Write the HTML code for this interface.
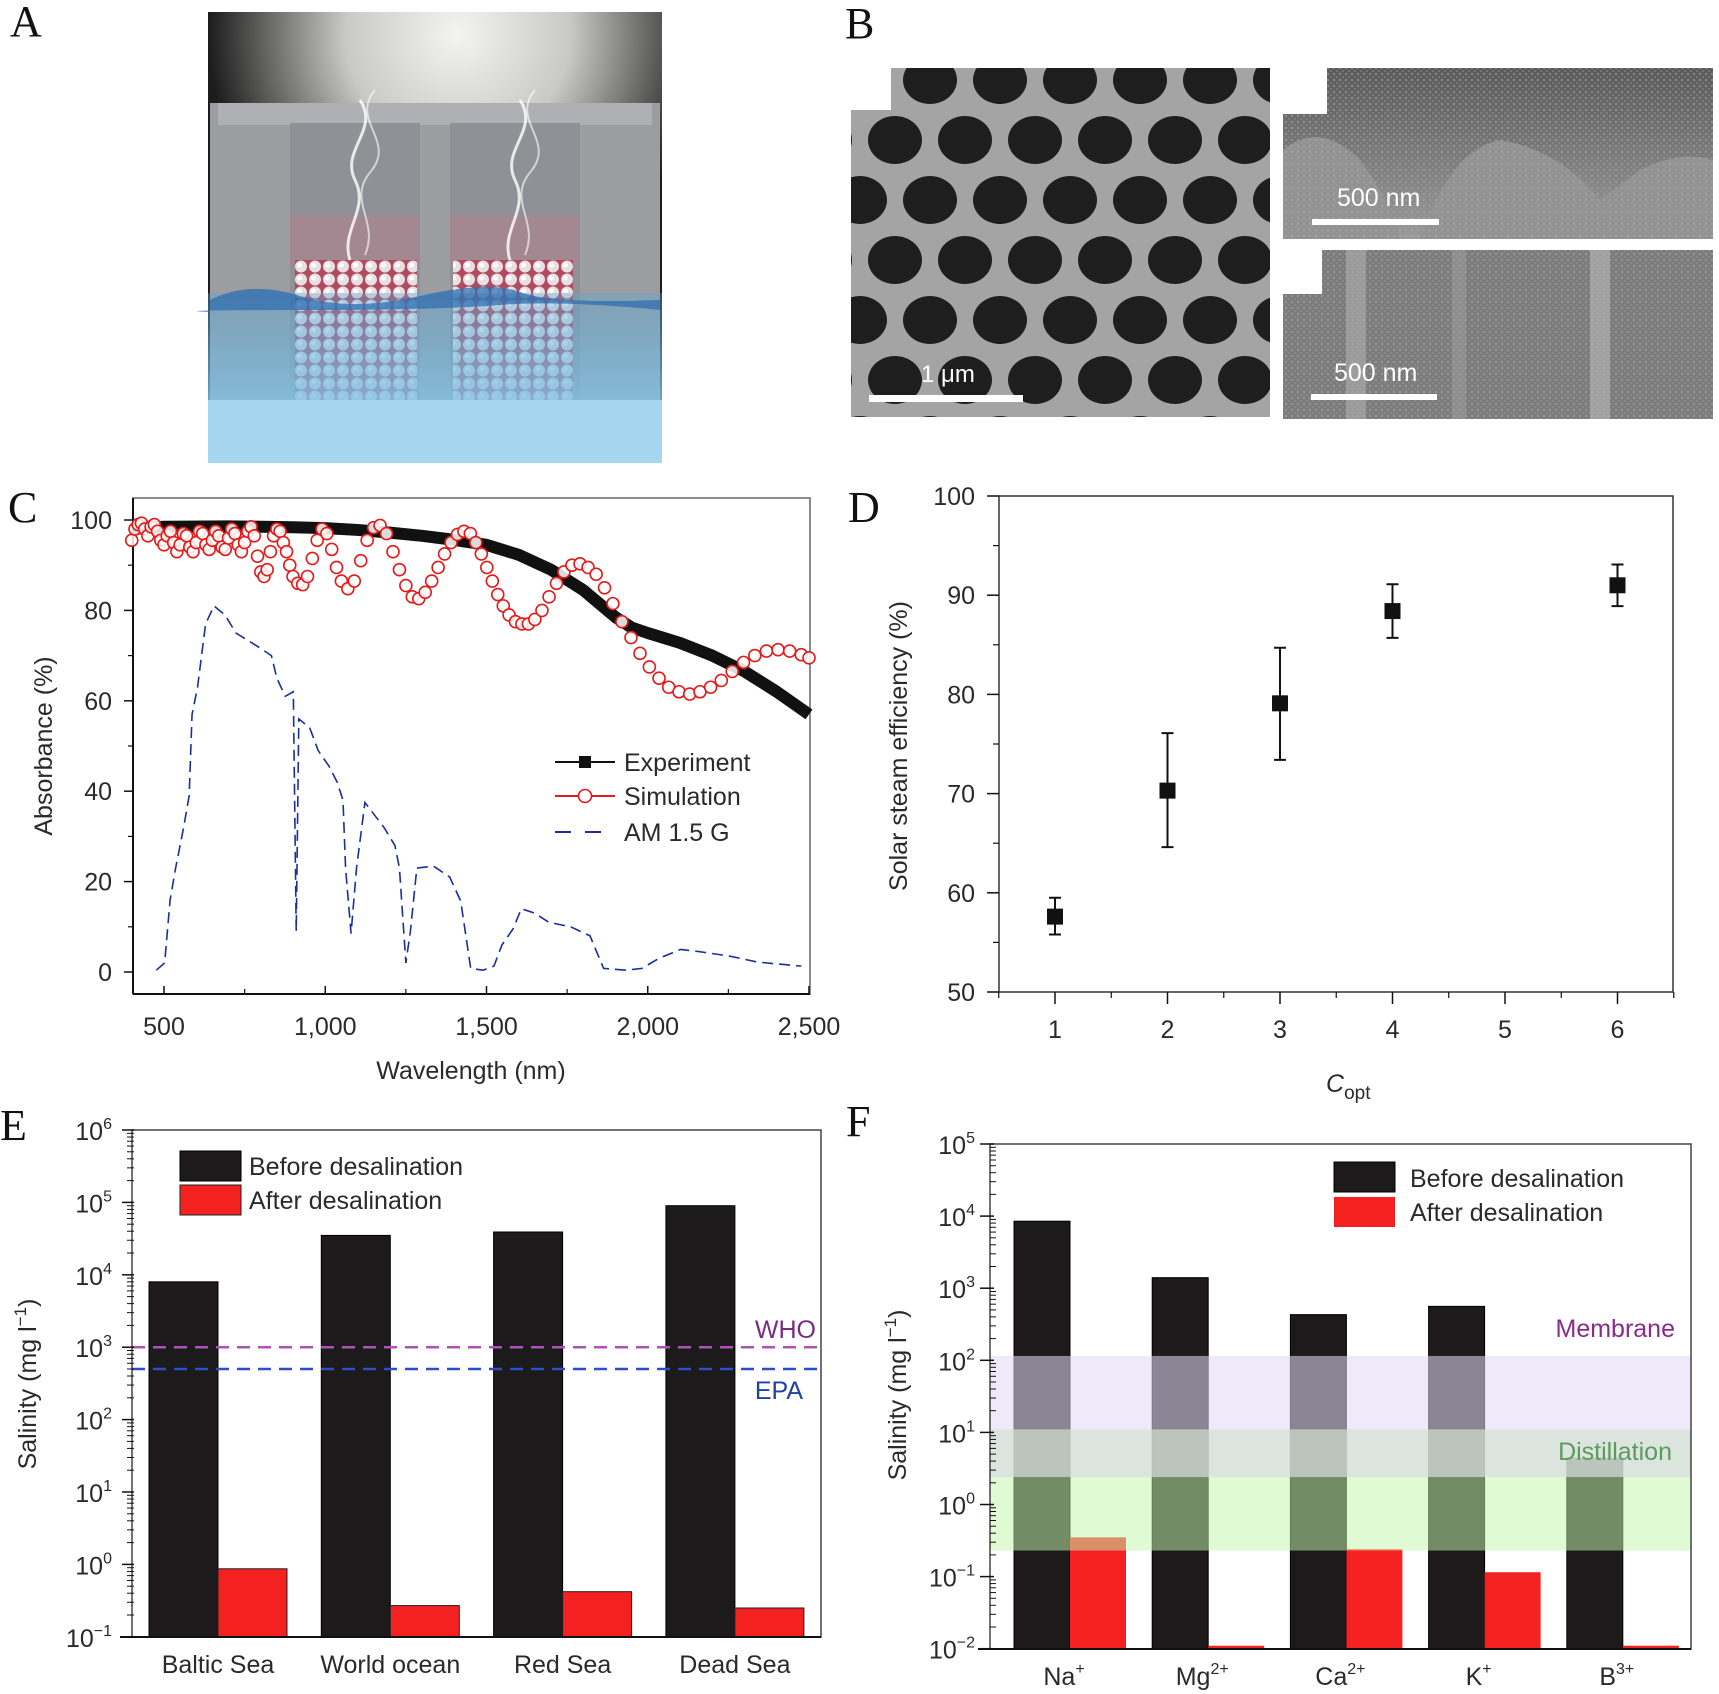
<!DOCTYPE html>
<html><head><meta charset="utf-8">
<style>
html,body{margin:0;padding:0;background:#fff;}
svg{display:block;}
text{font-family:"Liberation Sans",sans-serif;fill:#2a2a2a;}
.lbl{font-family:"Liberation Serif",serif;font-size:44px;fill:#111;}
.tk{font-size:25px;}
.ax{font-size:25px;}
</style></head>
<body>
<svg id="fig" xmlns="http://www.w3.org/2000/svg" width="1719" height="1694" viewBox="0 0 1719 1694">
<defs>
  <radialGradient id="glow" cx="0.55" cy="0.05" r="0.55">
    <stop offset="0" stop-color="#f4f4f2"/><stop offset="0.45" stop-color="#c9c9c7"/><stop offset="1" stop-color="#1c1c1c"/>
  </radialGradient>
  <linearGradient id="water" x1="0" y1="0" x2="0" y2="1">
    <stop offset="0" stop-color="#5aa8d6" stop-opacity="0.35"/><stop offset="0.6" stop-color="#7fc0e4" stop-opacity="0.8"/><stop offset="1" stop-color="#a9d8f0"/>
  </linearGradient>
  <linearGradient id="semtop" x1="0" y1="0" x2="0" y2="1">
    <stop offset="0" stop-color="#5a5a5a"/><stop offset="0.5" stop-color="#7a7a7a"/><stop offset="1" stop-color="#9a9a9a"/>
  </linearGradient>
  <pattern id="beads" width="14" height="13" patternUnits="userSpaceOnUse">
    <rect width="14" height="13" fill="#b04a5e"/>
    <circle cx="7" cy="6.5" r="6" fill="#e8dfe2"/>
    <circle cx="5.5" cy="5" r="2.5" fill="#ffffff"/>
  </pattern>
  <pattern id="grain" width="6" height="6" patternUnits="userSpaceOnUse">
    <circle cx="2" cy="2" r="1.2" fill="#b0b0b0" opacity="0.5"/>
    <circle cx="5" cy="5" r="1" fill="#9c9c9c" opacity="0.5"/>
  </pattern>
</defs>

<!-- Panel A -->
<g>
  <text class="lbl" x="10" y="36">A</text>
  <g>
    <rect x="208" y="12" width="454" height="451" fill="url(#glow)"/>
    <rect x="210" y="103" width="450" height="330" fill="#9b9da1"/>
    <rect x="218" y="103" width="434" height="22" fill="#aeb0b3"/>
    <rect x="290" y="123" width="130" height="310" fill="#8f9196"/>
    <rect x="450" y="123" width="130" height="310" fill="#8f9196"/>
    <rect x="290" y="215" width="130" height="50" fill="#e06a82" opacity="0.25"/>
    <rect x="450" y="215" width="130" height="50" fill="#e06a82" opacity="0.25"/>
    <rect x="295" y="260" width="122" height="150" fill="url(#beads)"/>
    <rect x="453" y="260" width="120" height="150" fill="url(#beads)"/>
    <rect x="208" y="293" width="454" height="170" fill="url(#water)"/>
    <path d="M210 300 Q250 280 300 296 T420 296 T520 292 T660 300 L660 310 Q560 300 500 305 T300 310 T210 312 Z" fill="#2f6db0" opacity="0.75"/>
    <rect x="208" y="400" width="454" height="63" fill="#a6d6ef"/>
    <path d="M350 260 C340 230 370 210 355 180 C340 150 380 130 360 100" stroke="#fff" stroke-width="3" fill="none" opacity="0.8"/>
    <path d="M365 255 C380 220 345 200 372 170 C395 140 350 120 375 90" stroke="#fff" stroke-width="2" fill="none" opacity="0.6"/>
    <path d="M510 260 C500 230 530 210 515 180 C500 150 540 130 520 100" stroke="#fff" stroke-width="3" fill="none" opacity="0.8"/>
    <path d="M525 255 C540 220 505 200 532 170 C555 140 510 120 535 90" stroke="#fff" stroke-width="2" fill="none" opacity="0.6"/>
  </g>
</g>

<!-- Panel B -->
<g>
  <text class="lbl" x="845" y="38">B</text>
  <g id="semLeft">
    <rect x="851" y="68" width="419" height="349" fill="#a4a4a4"/>
  </g>
  <g>
    <rect x="1283" y="68" width="430" height="171" fill="url(#semtop)"/>
    <path d="M1283 239 L1283 150 Q1320 120 1360 160 Q1390 200 1400 239 Z M1420 239 Q1450 150 1500 140 Q1560 150 1600 200 L1640 170 Q1680 150 1713 160 L1713 239 Z" fill="#929292"/>
    <rect x="1283" y="68" width="430" height="171" fill="url(#grain)"/>
    <rect x="1283" y="68" width="44" height="46" fill="#fff"/>
    <text x="1337" y="206" font-size="25" style="fill:#fff">500 nm</text>
    <rect x="1312" y="219" width="127" height="6" fill="#fff"/>
  </g>
  <g>
    <rect x="1283" y="250" width="430" height="169" fill="#7c7c7c"/>
    <rect x="1283" y="250" width="430" height="169" fill="url(#grain)"/>
    <rect x="1346" y="250" width="20" height="169" fill="#a8a8a8" opacity="0.7"/>
    <rect x="1452" y="250" width="14" height="169" fill="#a0a0a0" opacity="0.5"/>
    <rect x="1590" y="250" width="20" height="169" fill="#b0b0b0" opacity="0.7"/>
    <rect x="1283" y="250" width="39" height="44" fill="#fff"/>
    <text x="1334" y="381" font-size="25" style="fill:#fff">500 nm</text>
    <rect x="1311" y="394" width="126" height="6" fill="#fff"/>
  </g>
</g>

<!-- Panel C -->
<g id="panelC">
  <text class="lbl" x="8" y="522">C</text>
  <text class="ax" transform="translate(52,746) rotate(-90)" text-anchor="middle">Absorbance (%)</text>
  <text class="ax" x="471" y="1079" text-anchor="middle">Wavelength (nm)</text>
</g>

<!-- Panel D -->
<g id="panelD">
  <text class="lbl" x="848" y="522">D</text>
  <text class="ax" transform="translate(907,746) rotate(-90)" text-anchor="middle">Solar steam efficiency (%)</text>
  <text class="ax" x="1326" y="1092" font-style="italic">C<tspan font-style="normal" font-size="19" dy="7">opt</tspan></text>
</g>

<!-- Panel E -->
<g id="panelE">
  <text class="lbl" x="0" y="1140">E</text>
  <text class="ax" transform="translate(36,1384) rotate(-90)" text-anchor="middle">Salinity (mg l<tspan font-size="17" dy="-10">−1</tspan><tspan dy="10">)</tspan></text>
</g>

<!-- Panel F -->
<g id="panelF">
  <text class="lbl" x="846" y="1136">F</text>
  <text class="ax" transform="translate(906,1395) rotate(-90)" text-anchor="middle">Salinity (mg l<tspan font-size="17" dy="-10">−1</tspan><tspan dy="10">)</tspan></text>
</g>
</svg>

<script>
// ---------- Panel C data ----------
const expWl  = [400,500,700,900,1000,1100,1200,1300,1400,1500,1600,1700,1800,1850,1900,1950,2000,2100,2200,2300,2400,2500];
const expAbs = [98,98.5,98.6,98.4,98.2,97.8,97.2,96.5,95.6,94.5,92.3,89,84.5,81.5,78.5,76.2,75,72.8,70,66.5,62,57];
const simWl  = [400,410,420,430,440,450,460,470,480,490,500,510,520,530,540,550,560,570,580,590,600,610,620,630,640,650,660,670,680,690,700,710,720,730,740,750,760,770,780,790,800,810,820,830,840,850,860,870,880,890,900,915,930,945,960,975,990,1005,1020,1035,1050,1070,1090,1110,1130,1150,1170,1190,1210,1230,1250,1270,1290,1310,1330,1350,1370,1390,1410,1430,1450,1467,1484,1501,1518,1535,1552,1570,1590,1610,1630,1650,1672,1694,1717,1740,1765,1790,1815,1840,1866,1892,1920,1948,1976,2005,2035,2065,2097,2130,2162,2195,2228,2262,2297,2332,2368,2404,2440,2476,2500];
const simAbs = [95.5,98,99,99.3,98,96.5,98.5,99,97.5,95.5,94.5,96.5,97.5,95,93,94.5,97,96.5,94,93,95,97.5,97,94.5,93.5,95.5,97.5,96.5,94,93.5,96,98,97,94.5,93,95,97.5,98.5,96.5,92,88.5,87.5,89,93,96.5,98,97.5,95,93,90,87.5,86,85.7,87.5,91.5,95.5,98,97,93.5,89.5,86.5,84.8,86.5,91,95.5,98.3,98.8,97,93,89,85.5,83,82.6,84,86.5,89.5,92.5,95,96.8,97.5,97,95,92.5,89.5,86.5,83.5,81,79,77.5,77,77,78,80,83,86,88.5,90,90.3,89.5,88,85,81.5,77.5,74,70.5,67.5,65,63,62,61.5,62,63,64.5,66.5,68.5,70,71,71.3,71,70.2,69.5];
const amWl  = [476,502,519,536,561,578,587,604,629,655,689,723,791,833,850,876,901,910,918,952,978,1012,1037,1055,1063,1080,1097,1123,1182,1216,1230,1250,1264,1284,1336,1386,1420,1434,1451,1489,1523,1548,1582,1608,1650,1693,1761,1821,1863,1931,1982,2034,2102,2161,2255,2340,2476];
const amVal = [0.4,2,16,23,32,39,57,63,77,81,79,75,72,70,65,61,62,9,56,54,49,45.5,42,38,23,8.5,23,37.5,32,28,23,2,9,23,23.4,21,15.7,9,0.8,0.4,1.3,6,9.5,14,13,11,10,8,0.8,0.4,0.8,3,5,4.5,3.5,2.2,1.3];
const cYTicks = [0,20,40,60,80,100];
const cXTicks = [500,1000,1500,2000,2500];
const cXTickLabels = ["500","1,000","1,500","2,000","2,500"];
const cLegend = ["Experiment","Simulation","AM 1.5 G"];

// ---------- Panel D data ----------
const dX = [1,2,3,4,6];
const dEff = [57.6,70.3,79.1,88.4,91.0];
const dErrLo = [55.8,64.6,73.4,85.7,88.9];
const dErrHi = [59.5,76.1,84.7,91.1,93.1];
const dYTicks = [50,60,70,80,90,100];
const dXTicks = [1,2,3,4,5,6];

// ---------- Panel E data ----------
const eCats = ["Baltic Sea","World ocean","Red Sea","Dead Sea"];
const eBefore = [8000,35000,39000,90000];
const eAfter = [0.87,0.27,0.42,0.25];
const eWHO = 1000;
const eEPA = 500;
const eDecades = [-1,0,1,2,3,4,5,6];

// ---------- Panel F data ----------
const fCats = ["Na","Mg","Ca","K","B"];
const fCharges = ["+","2+","2+","+","3+"];
const fBefore = [8500,1400,430,560,4.4];
const fAfter = [0.35,0.011,0.24,0.115,0.011];
const fMembrane = [2.4,115];
const fDistTop = [11,2.4];
const fDistLow = [0.23,2.4];
const fDecades = [-2,-1,0,1,2,3,4,5];

const NS = "http://www.w3.org/2000/svg";
function mk(tag, attrs, parent){
  const el = document.createElementNS(NS, tag);
  for (const k in attrs) el.setAttribute(k, attrs[k]);
  parent.appendChild(el);
  return el;
}

// ---------- Panel B decorative SEM mesh ----------
(function(){
  const g = document.getElementById('semLeft');
  const holeG = mk('g', {}, g);
  for (let r = -1; r < 7; r++) {
    for (let c = -1; c < 7; c++) {
      const cx = 860 + c*70 + (r%2 ? 35 : 0);
      const cy = 80 + r*60;
      mk('ellipse', {cx: cx, cy: cy, rx: 27, ry: 24, fill: '#1e1e1e'}, holeG);
    }
  }
  const clip = mk('clipPath', {id: 'semclip'}, g);
  mk('rect', {x: 851, y: 68, width: 419, height: 349}, clip);
  holeG.setAttribute('clip-path', 'url(#semclip)');
  mk('rect', {x: 851, y: 68, width: 40, height: 42, fill: '#fff'}, g);
  const sb = mk('rect', {x: 869, y: 395, width: 154, height: 7, fill: '#fff'}, g);
  
  
  const st = mk('text', {x: 921, y: 382, 'font-size': 24, style: 'fill:#fff'}, g);
  st.textContent = '1 μm';
  
  
})();

// ---------- Panel C ----------
(function(){
  const g = document.getElementById('panelC');
  const L = 133, R = 810, T = 498, B = 994;
  const xC = w => 164 + (w - 500) * 645 / 2000;
  const yC = v => 972 - v * 4.52;
  const frame = mk('rect', {x: L, y: T, width: R-L, height: B-T, fill: 'none', stroke: '#666', 'stroke-width': 1.5}, g);
  
  
  mk('line', {x1: L, y1: T, x2: L, y2: B, stroke: '#111', 'stroke-width': 2}, g);
  mk('line', {x1: L, y1: B, x2: R, y2: B, stroke: '#111', 'stroke-width': 2}, g);
  cYTicks.forEach(v => {
    mk('line', {x1: L-9, y1: yC(v), x2: L, y2: yC(v), stroke: '#111', 'stroke-width': 1.5}, g);
    if (v < 100) mk('line', {x1: L-5, y1: yC(v+10), x2: L, y2: yC(v+10), stroke: '#111', 'stroke-width': 1.2}, g);
    const t = mk('text', {x: 112, y: yC(v)+9, 'text-anchor': 'end', class: 'tk'}, g);
    t.textContent = v;
    
    
  });
  cXTicks.forEach((w, i) => {
    mk('line', {x1: xC(w), y1: B, x2: xC(w), y2: B-8, stroke: '#111', 'stroke-width': 1.5}, g);
    if (w < 2500) mk('line', {x1: xC(w+250), y1: B, x2: xC(w+250), y2: B-5, stroke: '#111', 'stroke-width': 1.2}, g);
    const t = mk('text', {x: xC(w), y: 1035, 'text-anchor': 'middle', class: 'tk'}, g);
    t.textContent = cXTickLabels[i];
    
    
  });
  const am = mk('polyline', {points: amWl.map((w,i) => xC(w)+','+yC(amVal[i])).join(' '), fill: 'none', stroke: '#1a2f9c', 'stroke-width': 1.6, 'stroke-dasharray': '11,6'}, g);
  
  
  const ex = mk('polyline', {points: expWl.map((w,i) => xC(w)+','+yC(expAbs[i])).join(' '), fill: 'none', stroke: '#111', 'stroke-width': 12, 'stroke-linejoin': 'round'}, g);
  
  
  const simG = mk('g', {}, g);
  
  
  simWl.forEach((w, i) => {
    const c = mk('circle', {cx: xC(w), cy: yC(simAbs[i]), r: 6, fill: '#fff', 'fill-opacity': 0.85, stroke: '#e41a1a', 'stroke-width': 1.6}, simG);
    
    
  });
  const ly = [762, 796, 832];
  const lg = mk('g', {}, g);
  
  
  mk('line', {x1: 555, y1: ly[0], x2: 615, y2: ly[0], stroke: '#111', 'stroke-width': 2}, lg);
  mk('rect', {x: 579, y: ly[0]-6, width: 12, height: 12, fill: '#111'}, lg);
  mk('line', {x1: 555, y1: ly[1], x2: 615, y2: ly[1], stroke: '#e41a1a', 'stroke-width': 2}, lg);
  mk('circle', {cx: 585, cy: ly[1], r: 6.5, fill: '#fff', stroke: '#e41a1a', 'stroke-width': 1.6}, lg);
  mk('line', {x1: 555, y1: ly[2], x2: 615, y2: ly[2], stroke: '#1a2f9c', 'stroke-width': 2, 'stroke-dasharray': '16,14'}, lg);
  cLegend.forEach((s, i) => {
    const t = mk('text', {x: 624, y: ly[i]+9, class: 'tk', 'font-size': 24}, lg);
    t.textContent = s;
    
    
  });
})();

// ---------- Panel D ----------
(function(){
  const g = document.getElementById('panelD');
  const L = 999, R = 1673, T = 496, B = 992;
  const xD = c => 1055 + (c - 1) * 112.5;
  const yD = v => 992 - (v - 50) * 9.92;
  const frame = mk('rect', {x: L, y: T, width: R-L, height: B-T, fill: 'none', stroke: '#333', 'stroke-width': 1.5}, g);
  
  
  dYTicks.forEach(v => {
    mk('line', {x1: L-12, y1: yD(v), x2: L, y2: yD(v), stroke: '#111', 'stroke-width': 1.5}, g);
    if (v < 100) mk('line', {x1: L-6, y1: yD(v+5), x2: L, y2: yD(v+5), stroke: '#111', 'stroke-width': 1.2}, g);
    const t = mk('text', {x: 975, y: yD(v)+9, 'text-anchor': 'end', class: 'tk'}, g);
    t.textContent = v;
    
    
  });
  dXTicks.forEach(c => {
    mk('line', {x1: xD(c), y1: B, x2: xD(c), y2: B+12, stroke: '#111', 'stroke-width': 1.5}, g);
    mk('line', {x1: xD(c+0.5), y1: B, x2: xD(c+0.5), y2: B+6, stroke: '#111', 'stroke-width': 1.2}, g);
    const t = mk('text', {x: xD(c), y: 1038, 'text-anchor': 'middle', class: 'tk'}, g);
    t.textContent = c;
    
    
  });
  mk('line', {x1: xD(0.5), y1: B, x2: xD(0.5), y2: B+6, stroke: '#111', 'stroke-width': 1.2}, g);
  dX.forEach((c, i) => {
    const eb = mk('path', {d: 'M'+xD(c)+' '+yD(dErrLo[i])+' V'+yD(dErrHi[i])+' M'+(xD(c)-6)+' '+yD(dErrLo[i])+' h12 M'+(xD(c)-6)+' '+yD(dErrHi[i])+' h12', stroke: '#111', 'stroke-width': 2, fill: 'none'}, g);
    
    
    const m = mk('rect', {x: xD(c)-8, y: yD(dEff[i])-8, width: 16, height: 16, fill: '#111'}, g);
    
    
  });
})();

function logLabel(g, x, y, d){
  const t = mk('text', {x: x, y: y, 'text-anchor': 'end', class: 'tk'}, g);
  t.appendChild(document.createTextNode('10'));
  const s = mk('tspan', {'font-size': 16, dy: -11}, t);
  s.textContent = d < 0 ? '−' + (-d) : String(d);
  
  
  return t;
}

// ---------- Panel E ----------
(function(){
  const g = document.getElementById('panelE');
  const L = 132, R = 821, T = 1130, B = 1637;
  const yE = v => 1130 + (6 - Math.log10(v)) * 72.4;
  const xc = i => 218 + i * 172.3;
  const bw = 69;
  eCats.forEach((c, i) => {
    const b1 = mk('rect', {x: xc(i)-bw, y: yE(eBefore[i]), width: bw, height: B - yE(eBefore[i]), fill: '#1c1a1b', stroke: '#000', 'stroke-width': 1}, g);
    
    
    const b2 = mk('rect', {x: xc(i), y: yE(eAfter[i]), width: bw, height: B - yE(eAfter[i]), fill: '#f42121', stroke: '#222', 'stroke-width': 1}, g);
    
    
    const t = mk('text', {x: xc(i), y: 1673, 'text-anchor': 'middle', class: 'tk'}, g);
    t.textContent = c;
    
    
  });
  const who = mk('line', {x1: L, y1: yE(eWHO), x2: R, y2: yE(eWHO), stroke: '#b050b8', 'stroke-width': 2.5, 'stroke-dasharray': '13,8'}, g);
  
  
  const epa = mk('line', {x1: L, y1: yE(eEPA), x2: R, y2: yE(eEPA), stroke: '#2a4fc8', 'stroke-width': 2.5, 'stroke-dasharray': '13,8'}, g);
  
  
  const tw = mk('text', {x: 816, y: yE(eWHO)-9, 'text-anchor': 'end', class: 'tk', style: 'fill:#7a2a82'}, g);
  tw.textContent = 'WHO';
  
  
  const te = mk('text', {x: 803, y: yE(eEPA)+30, 'text-anchor': 'end', class: 'tk', style: 'fill:#2040a8'}, g);
  te.textContent = 'EPA';
  
  
  const frame = mk('rect', {x: L, y: T, width: R-L, height: B-T, fill: 'none', stroke: '#444', 'stroke-width': 1.5}, g);
  
  
  mk('line', {x1: L-12, y1: B, x2: R, y2: B, stroke: '#111', 'stroke-width': 2}, g);
  eDecades.forEach(d => {
    const y = yE(Math.pow(10, d));
    mk('line', {x1: L-10, y1: y, x2: L+2, y2: y, stroke: '#111', 'stroke-width': 1.5}, g);
    if (d < 6) for (let k = 2; k < 10; k++) {
      const yy = yE(k * Math.pow(10, d));
      mk('line', {x1: L-5, y1: yy, x2: L+2, y2: yy, stroke: '#111', 'stroke-width': 1}, g);
    }
    logLabel(g, 112, y + 10, d);
  });
  const lg = mk('g', {}, g);
  
  
  mk('rect', {x: 180, y: 1151, width: 61, height: 30, fill: '#1c1a1b', stroke: '#000'}, lg);
  mk('rect', {x: 180, y: 1185, width: 61, height: 30, fill: '#f42121', stroke: '#222'}, lg);
  const l1 = mk('text', {x: 249, y: 1175, class: 'tk', 'font-size': 26}, lg);
  l1.textContent = 'Before desalination';
  
  
  const l2 = mk('text', {x: 249, y: 1209, class: 'tk', 'font-size': 26}, lg);
  l2.textContent = 'After desalination';
  
  
})();

// ---------- Panel F ----------
(function(){
  const g = document.getElementById('panelF');
  const L = 990, R = 1691, T = 1144, B = 1649;
  const yF = v => 1144 + (5 - Math.log10(v)) * 72.1;
  const xc = i => 1070 + i * 138.2;
  const bw = 56;
  fCats.forEach((c, i) => {
    const b1 = mk('rect', {x: xc(i)-bw, y: yF(fBefore[i]), width: bw, height: B - yF(fBefore[i]), fill: '#1c1a1b', stroke: '#000', 'stroke-width': 1}, g);
    
    
    const b2 = mk('rect', {x: xc(i), y: yF(fAfter[i]), width: bw, height: B - yF(fAfter[i]), fill: '#f42121'}, g);
    
    
    const t = mk('text', {x: xc(i)-6, y: 1685, 'text-anchor': 'middle', class: 'tk'}, g);
    t.appendChild(document.createTextNode(c));
    const s = mk('tspan', {'font-size': 16, dy: -11}, t);
    s.textContent = fCharges[i];
    
    
  });
  const bm = mk('rect', {x: L, y: yF(fMembrane[1]), width: R-L, height: yF(fMembrane[0]) - yF(fMembrane[1]), fill: 'rgb(226,218,246)', 'fill-opacity': 0.56}, g);
  
  
  const bd1 = mk('rect', {x: L, y: yF(fDistTop[0]), width: R-L, height: yF(fDistTop[1]) - yF(fDistTop[0]), fill: 'rgb(216,232,212)', 'fill-opacity': 0.36}, g);
  
  
  const bd2 = mk('rect', {x: L, y: yF(fDistLow[1]), width: R-L, height: yF(fDistLow[0]) - yF(fDistLow[1]), fill: 'rgb(196,246,172)', 'fill-opacity': 0.52}, g);
  
  
  const bd3 = mk('rect', {x: L, y: yF(fDistTop[0]), width: R-L, height: yF(fDistTop[1]) - yF(fDistTop[0]), fill: 'rgb(210,225,205)', 'fill-opacity': 0.5}, g);
  
  
  const tm = mk('text', {x: 1675, y: 1337, 'text-anchor': 'end', class: 'tk', style: 'fill:#8a2a8a'}, g);
  tm.textContent = 'Membrane';
  
  
  const td = mk('text', {x: 1672, y: 1460, 'text-anchor': 'end', class: 'tk', style: 'fill:#5d9a5d'}, g);
  td.textContent = 'Distillation';
  
  
  const frame = mk('rect', {x: L, y: T, width: R-L, height: B-T, fill: 'none', stroke: '#444', 'stroke-width': 1.5}, g);
  
  
  mk('line', {x1: L-12, y1: B, x2: R, y2: B, stroke: '#111', 'stroke-width': 2}, g);
  fDecades.forEach(d => {
    const y = yF(Math.pow(10, d));
    mk('line', {x1: L-10, y1: y, x2: L+4, y2: y, stroke: '#111', 'stroke-width': 1.5}, g);
    if (d < 5) for (let k = 2; k < 10; k++) {
      const yy = yF(k * Math.pow(10, d));
      mk('line', {x1: L, y1: yy, x2: L+6, y2: yy, stroke: '#111', 'stroke-width': 1}, g);
    }
    logLabel(g, 975, y + 10, d);
  });
  const lg = mk('g', {}, g);
  
  
  mk('rect', {x: 1334, y: 1162, width: 61, height: 30, fill: '#1c1a1b', stroke: '#000'}, lg);
  mk('rect', {x: 1334, y: 1197, width: 61, height: 30, fill: '#f42121'}, lg);
  const l1 = mk('text', {x: 1410, y: 1187, class: 'tk', 'font-size': 26}, lg);
  l1.textContent = 'Before desalination';
  
  
  const l2 = mk('text', {x: 1410, y: 1221, class: 'tk', 'font-size': 26}, lg);
  l2.textContent = 'After desalination';
  
  
})();
</script>
</body></html>
